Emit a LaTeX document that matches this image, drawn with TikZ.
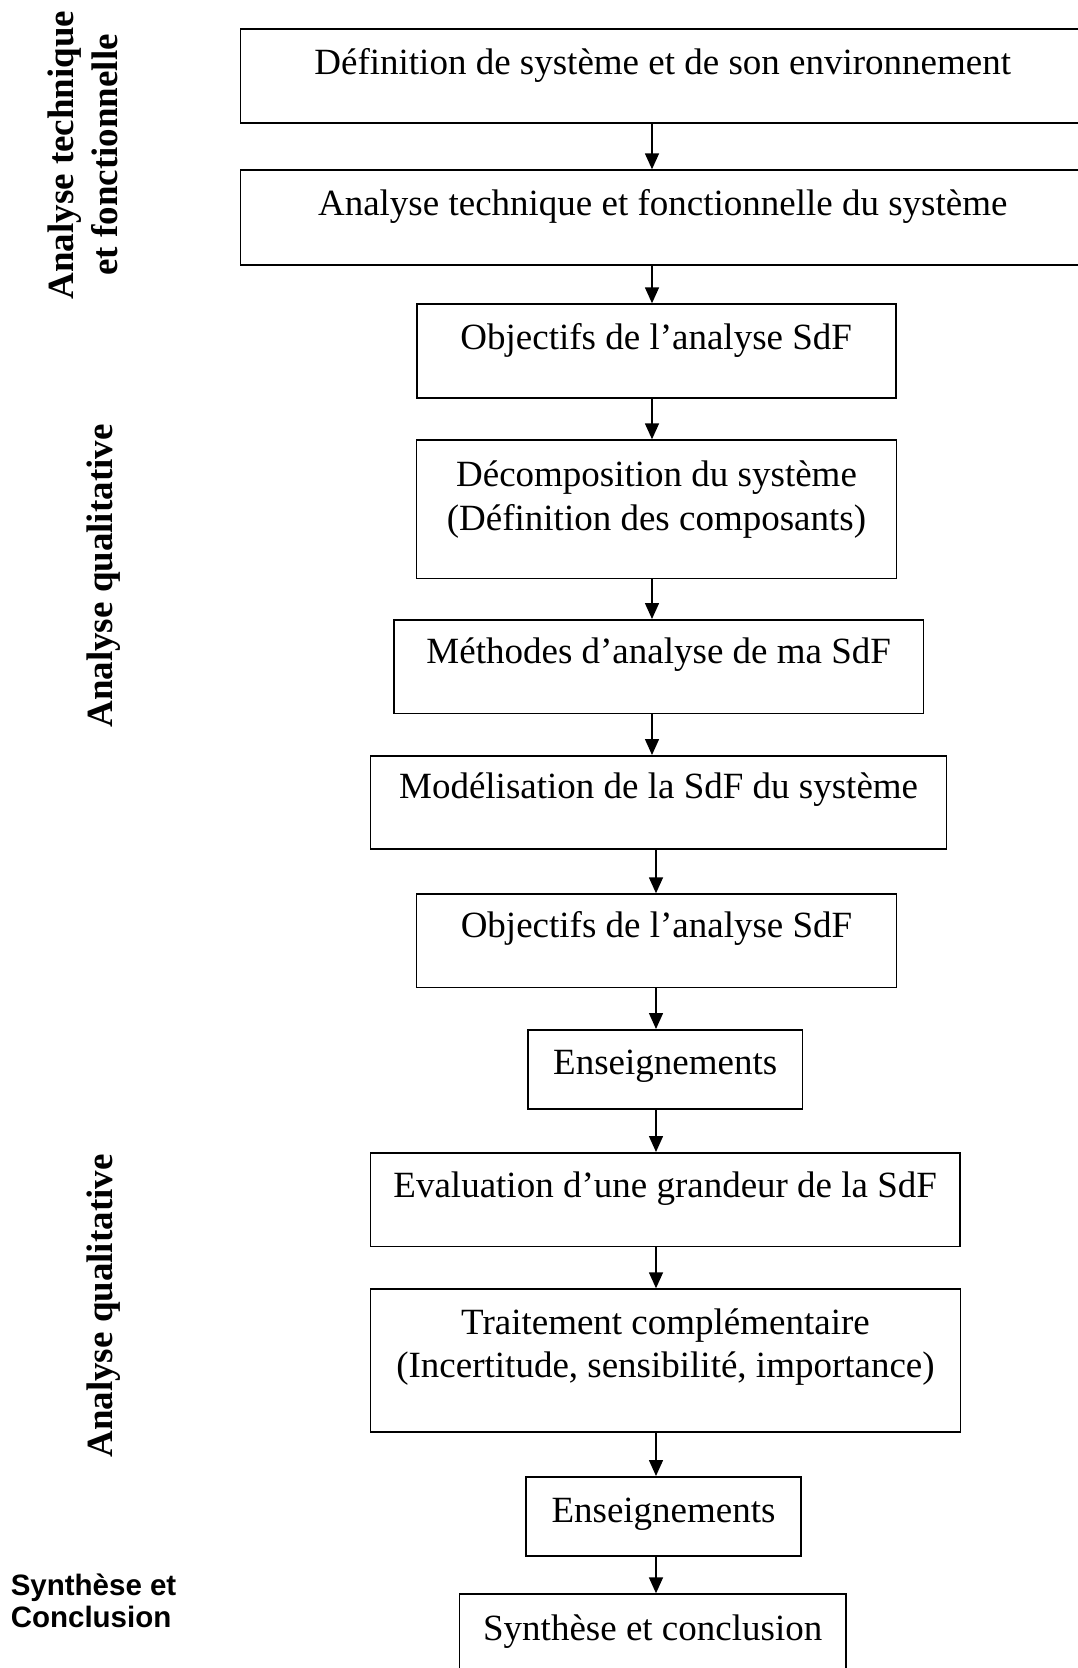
\documentclass[tikz,border=0pt]{standalone}
\usepackage{fontspec}
\setmainfont{Liberation Serif}
\setsansfont{Liberation Sans}
\usetikzlibrary{arrows.meta}
\tikzset{
  box/.style={draw, line width=1.6pt, inner sep=0pt, anchor=north,
    text height=45pt, text depth=49pt, font=\fontsize{37}{43.5}\selectfont},
  side/.style={rotate=90, inner sep=0pt, font=\fontsize{37}{44}\selectfont\bfseries}
}
\begin{document}
\begin{tikzpicture}[x=1pt,y=-1pt,>={Triangle[length=16pt,width=14pt]},line width=1.5pt]
  \useasboundingbox (0,0) rectangle (1078,1668);
  \coordinate (spine) at (652,0);
  \coordinate (spinelow) at (656,0);
  \node[box, minimum width=844.5pt] (def) at (662.75,28.3) {Définition de système et de son environnement};
  \node[box, minimum width=844.5pt, text depth=50pt] (ana) at (662.75,169.3) {Analyse technique et fonctionnelle du système};
  \node[box, minimum width=479pt] (obj) at (656.2,303.3) {Objectifs de l’analyse SdF};
  \node[box, minimum width=480pt, align=center, text height=90pt, text depth=48.4pt] (deco) at (656.5,439.3) {Décomposition du système\\(Définition des composants)};
  \node[box, minimum width=529.4pt, text height=44pt, text depth=49.7pt] (meth) at (658.7,619) {Méthodes d’analyse de ma SdF};
  \node[box, minimum width=576pt, text height=43pt, text depth=50.3pt] (modl) at (658.6,755) {Modélisation de la SdF du système};
  \node[box, minimum width=480pt, text height=43.7pt, text depth=49.7pt] (obj2) at (656.5,893.3) {Objectifs de l’analyse SdF};
  \node[box, minimum width=274.3pt, text depth=34pt] (ens) at (665.2,1029) {Enseignements};
  \node[box, minimum width=589.2pt, text height=44.7pt] (eval) at (665.2,1152) {Evaluation d’une grandeur de la SdF};
  \node[box, minimum width=590pt, align=center, text height=88.4pt, text depth=54.3pt] (trait) at (665.5,1288.3) {Traitement complémentaire\\(Incertitude, sensibilité, importance)};
  \node[box, minimum width=275pt, text height=45.7pt, text depth=33.3pt] (ens2) at (663.5,1476) {Enseignements};
  \node[box, minimum width=386.7pt, text height=46.7pt, text depth=60pt] (synth) at (652.7,1593.3) {Synthèse et conclusion};
  \draw[->] (def.south -| spine) -- (ana.north -| spine);
  \draw[->] (ana.south -| spine) -- (obj.north -| spine);
  \draw[->] (obj.south -| spine) -- (deco.north -| spine);
  \draw[->] (deco.south -| spine) -- (meth.north -| spine);
  \draw[->] (meth.south -| spine) -- (modl.north -| spine);
  \draw[->] (modl.south -| spinelow) -- (obj2.north -| spinelow);
  \draw[->] (obj2.south -| spinelow) -- (ens.north -| spinelow);
  \draw[->] (ens.south -| spinelow) -- (eval.north -| spinelow);
  \draw[->] (eval.south -| spinelow) -- (trait.north -| spinelow);
  \draw[->] (trait.south -| spinelow) -- (ens2.north -| spinelow);
  \draw[->] (ens2.south -| spinelow) -- (synth.north -| spinelow);
  \node[side, align=center] (techlab) at (82.5,155) {Analyse technique\\et fonctionnelle};
  \node[side, anchor=base] (qual1) at (112.7,576) {Analyse qualitative};
  \node[side, anchor=base] (qual2) at (112.7,1306) {Analyse qualitative};
  \node[inner sep=0pt, anchor=north west, align=left, font=\fontsize{29.5}{32}\selectfont\sffamily\bfseries] (synlab) at (10,1573.5) {Synthèse et\\Conclusion};
\end{tikzpicture}
\end{document}
